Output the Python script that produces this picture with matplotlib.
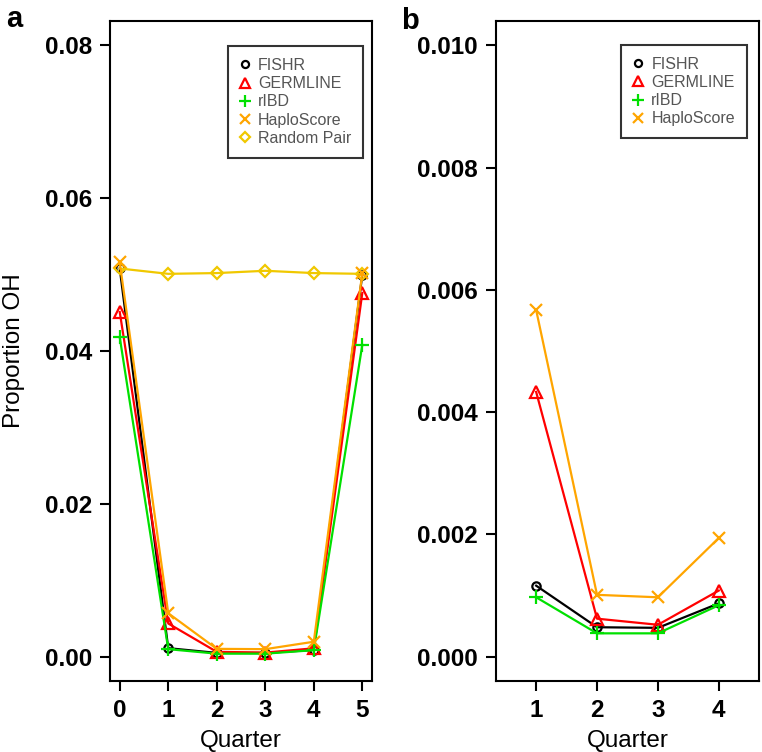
import numpy as np
import matplotlib
matplotlib.use("Agg")
import matplotlib.pyplot as plt
from matplotlib.lines import Line2D

plt.rcParams['font.family'] = ['Liberation Sans', 'DejaVu Sans']

# Panel a: quarters 0..5
quarters_a = [0, 1, 2, 3, 4, 5]
fishr_a = [0.0508, 0.00110, 0.00048, 0.00047, 0.00087, 0.0500]
germline_a = [0.0451, 0.00433, 0.00062, 0.00052, 0.00108, 0.0476]
ribd_a = [0.0418, 0.00097, 0.00038, 0.00038, 0.00084, 0.0408]
haplo_a = [0.0516, 0.00567, 0.00101, 0.00097, 0.00194, 0.0502]
random_a = [0.0508, 0.0501, 0.0502, 0.0505, 0.0502, 0.0501]

# Panel b: quarters 1..4
quarters_b = [1, 2, 3, 4]
fishr_b = [0.00116, 0.00048, 0.00047, 0.00087]
germline_b = [0.00433, 0.00062, 0.00052, 0.00108]
ribd_b = [0.00097, 0.00038, 0.00038, 0.00084]
haplo_b = [0.00567, 0.00101, 0.00097, 0.00194]

names = ['FISHR', 'GERMLINE', 'rIBD', 'HaploScore', 'Random Pair']
colors = ['black', '#FF0000', '#00E000', '#FFA500', '#F0C800']
markers = ['o', '^', '+', 'x', 'D']
msizes = [6, 8, 10, 8, 6.5]

fig = plt.figure(figsize=(7.62, 7.52), dpi=100)
ax_a = fig.add_axes([0.1444, 0.0944, 0.3438, 0.8777])
ax_b = fig.add_axes([0.6509, 0.0944, 0.3451, 0.8777])


def draw(ax, x, series, n):
    for i in range(n):
        ax.plot(x, series[i], color=colors[i], lw=1.6, marker=markers[i],
                ms=msizes[i], mew=1.6, mfc='none', mec=colors[i], zorder=3 + (i == 3))


def style(ax, xlim, ylim, yticks, yfmt, xticks):
    ax.set_xlim(*xlim)
    ax.set_ylim(*ylim)
    ax.set_yticks(yticks)
    ax.set_yticklabels([yfmt.format(v) for v in yticks])
    ax.set_xticks(xticks)
    ax.set_xticklabels([str(v) for v in xticks])
    for lab in ax.get_xticklabels() + ax.get_yticklabels():
        lab.set_fontweight('bold')
        lab.set_fontsize(17.5)
    ax.tick_params(direction='out', length=7, width=1.5, pad=6)
    for s in ax.spines.values():
        s.set_linewidth(1.5)
    ax.set_xlabel('Quarter', fontsize=17.5, labelpad=6)


def legend(ax, n, anchor):
    handles = [Line2D([], [], ls='none', marker=markers[i], color=colors[i],
                      mfc='none', mew=1.6, ms=msizes[i] * 0.85) for i in range(n)]
    leg = ax.legend(handles, names[:n], loc='upper right', bbox_to_anchor=anchor,
                    fontsize=11.5, frameon=True, fancybox=False, edgecolor='black',
                    handlelength=0.7, handletextpad=0.45, labelspacing=0.2,
                    borderpad=0.75, borderaxespad=0)
    leg.get_frame().set_linewidth(1.5)
    for t in leg.get_texts():
        t.set_color('#555555')


draw(ax_a, quarters_a, [fishr_a, germline_a, ribd_a, haplo_a, random_a], 5)
style(ax_a, (-0.2, 5.2), (-0.0032, 0.0832), [0.0, 0.02, 0.04, 0.06, 0.08], '{:.2f}', quarters_a)
ax_a.set_ylabel('Proportion OH', fontsize=17.5, labelpad=14)
legend(ax_a, 5, (0.966, 0.962))

draw(ax_b, quarters_b, [fishr_b, germline_b, ribd_b, haplo_b], 4)
style(ax_b, (0.34, 4.66), (-0.0004, 0.0104), [0.0, 0.002, 0.004, 0.006, 0.008, 0.010], '{:.3f}', quarters_b)
legend(ax_b, 4, (0.954, 0.964))

fig.text(0.008, 0.975, 'a', fontsize=21, fontweight='bold', va='center')
fig.text(0.527, 0.972, 'b', fontsize=21, fontweight='bold', va='center')

fig.savefig('out.png', dpi=100)
